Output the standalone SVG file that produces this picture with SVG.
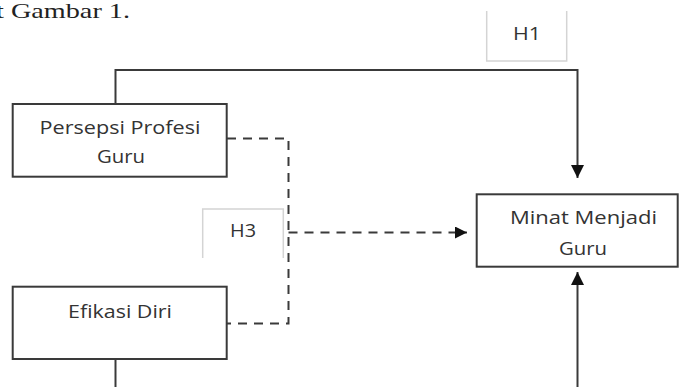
<svg xmlns="http://www.w3.org/2000/svg" width="679" height="387" viewBox="0 0 679 387">
<defs>
<style>
.box{fill:#fff;stroke:#3a3a3a;stroke-width:2}
.lbl{fill:none;stroke:#d4d4d4;stroke-width:1.5}
.t{font-family:"Open Sans","Noto Sans",sans-serif;font-size:18px;fill:#333;text-anchor:middle}
.ln{fill:none;stroke:#3a3a3a;stroke-width:2}
.dash{fill:none;stroke:#3a3a3a;stroke-width:2;stroke-dasharray:9 7}
</style>
<marker id="ah" viewBox="0 0 10 10" refX="10" refY="5" markerWidth="12" markerHeight="12" markerUnits="userSpaceOnUse" orient="auto">
<path d="M0,0 L10,5 L0,10 Z" fill="#111"/>
</marker>
<marker id="ah2" viewBox="0 0 10 10" refX="10" refY="5" markerWidth="13" markerHeight="13" markerUnits="userSpaceOnUse" orient="auto">
<path d="M0,0 L10,5 L0,10 Z" fill="#111"/>
</marker>
</defs>
<rect width="679" height="387" fill="#fff"/>
<text x="-4" y="18" font-family="'Liberation Serif',serif" font-size="22" fill="#222" textLength="134" lengthAdjust="spacingAndGlyphs">t Gambar 1.</text>

<g id="connectors">
<path class="ln" d="M115.5,104 V70 H577.5 V178" marker-end="url(#ah2)"/>
<path class="ln" d="M577.5,387 V272" marker-end="url(#ah2)"/>
<path class="ln" d="M115.5,359 V387"/>
<path class="dash" d="M227,138.5 H288.5 V323.5 H227"/>
<path class="dash" d="M288.5,232.5 H467" marker-end="url(#ah)"/>
</g>

<g id="label-h1">
<path class="lbl" d="M486.7,11 V61 H566.7 V11"/>
<text class="t" x="527" y="40" textLength="28" lengthAdjust="spacingAndGlyphs">H1</text>
</g>
<g id="label-h3">
<path class="lbl" d="M202.7,258 V209 H283.3 V258"/>
<text class="t" x="243" y="237" textLength="26" lengthAdjust="spacingAndGlyphs">H3</text>
</g>

<g id="node-persepsi">
<rect class="box" x="12.7" y="104" width="214" height="72.7"/>
<text class="t" x="120" y="134" textLength="161" lengthAdjust="spacingAndGlyphs">Persepsi Profesi</text>
<text class="t" x="121" y="162.5" textLength="48" lengthAdjust="spacingAndGlyphs">Guru</text>
</g>
<g id="node-efikasi">
<rect class="box" x="12.7" y="286.7" width="214" height="72.3"/>
<text class="t" x="120" y="317.5" textLength="104" lengthAdjust="spacingAndGlyphs">Efikasi Diri</text>
</g>
<g id="node-minat">
<rect class="box" x="476.7" y="194.3" width="201" height="72.4"/>
<text class="t" x="583.5" y="224.3" textLength="147" lengthAdjust="spacingAndGlyphs">Minat Menjadi</text>
<text class="t" x="583" y="255" textLength="48" lengthAdjust="spacingAndGlyphs">Guru</text>
</g>
</svg>
